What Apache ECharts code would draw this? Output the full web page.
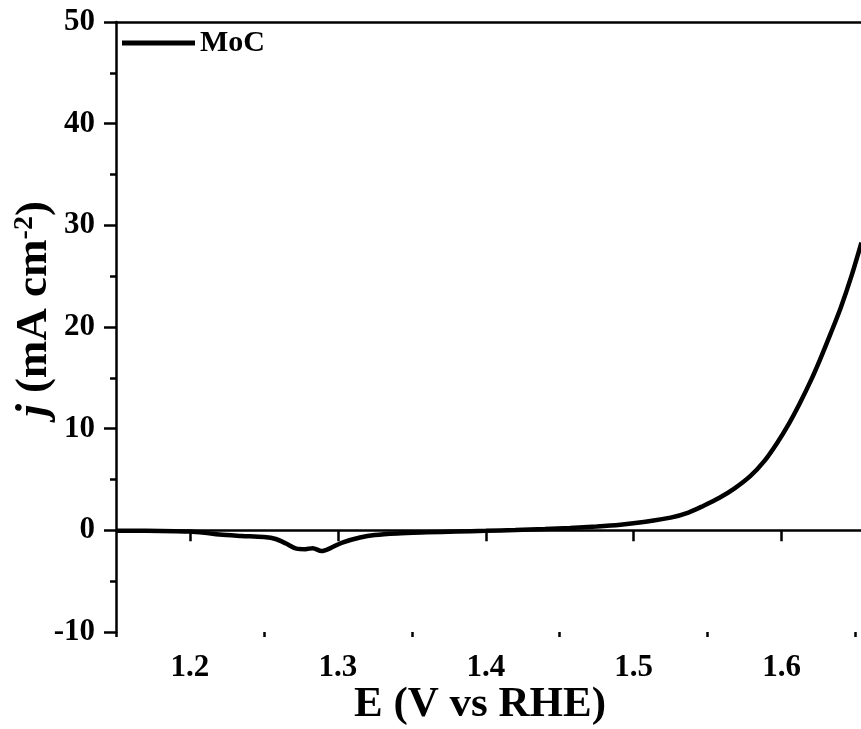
<!DOCTYPE html>
<html>
<head>
<meta charset="utf-8">
<script src="https://cdn.jsdelivr.net/npm/echarts@6/dist/echarts.min.js"></script>
<style>html,body{margin:0;padding:0;background:#fff}#c{width:861px;height:729px}</style>
</head>
<body>
<div id="c"></div>
<script>
const potential = [1.15,1.17,1.19,1.20,1.21,1.22,1.235,1.25,1.258,1.265,1.272,1.278,1.283,1.289,1.295,1.303,1.315,1.325,1.34,1.36,1.38,1.40,1.42,1.44,1.457,1.475,1.491,1.508,1.525,1.537,1.547,1.558,1.568,1.579,1.588,1.597,1.605,1.612,1.62,1.626,1.633,1.640,1.647,1.654];
const currentDensity = [-0.05,-0.05,-0.08,-0.12,-0.25,-0.42,-0.55,-0.66,-0.85,-1.3,-1.8,-1.85,-1.75,-2.04,-1.75,-1.2,-0.7,-0.45,-0.3,-0.2,-0.12,-0.05,0.03,0.12,0.23,0.38,0.56,0.85,1.25,1.75,2.4,3.2,4.1,5.35,6.75,8.6,10.5,12.4,14.8,16.8,19.3,21.9,24.9,28.3];
const xMajorTicks = [1.2,1.3,1.4,1.5,1.6];
const xMinorTicks = [1.15,1.25,1.35,1.45,1.55,1.65];
const seriesName = 'MoC';

const FONT = '"Liberation Serif","Times New Roman",serif';
const xMin = 1.15, xMax = 1.6537;
const chart = echarts.init(document.getElementById('c'));
const data = potential.map((e, i) => [e, currentDensity[i]]);
chart.setOption({
  animation: false,
  backgroundColor: '#fff',
  grid: { left: 116, right: 0, top: 22, bottom: 97, outerBoundsMode: 'none', containLabel: false },
  legend: {
    left: 117, top: 23,
    data: [{ name: seriesName, icon: 'rect' }],
    itemWidth: 73, itemHeight: 5,
    textStyle: { fontFamily: FONT, fontWeight: 'bold', fontSize: 30, color: '#000' }
  },
  xAxis: [
    {
      type: 'value', min: xMin, max: xMax, position: 'bottom',
      name: 'E (V vs RHE)', nameLocation: 'middle', nameGap: 51, nameMoveOverlap: false,
      nameTextStyle: { fontFamily: FONT, fontWeight: 'bold', fontSize: 43, color: '#000', padding: [0, 17, 0, 0] },
      axisLine: { lineStyle: { color: '#000', width: 2.5 } },
      axisTick: { customValues: xMajorTicks, length: 11, lineStyle: { color: '#000', width: 2.5 } },
      axisLabel: { customValues: xMajorTicks, margin: 20, fontFamily: FONT, fontWeight: 'bold', fontSize: 31, color: '#000', formatter: v => v.toFixed(1) },
      splitLine: { show: false }
    },
    {
      type: 'value', min: xMin, max: xMax, position: 'bottom',
      axisLine: { show: false },
      axisTick: { customValues: xMinorTicks, length: 5, lineStyle: { color: '#000', width: 2.5 } },
      axisLabel: { show: false },
      splitLine: { show: false }
    },
    {
      type: 'value', min: xMin, max: xMax, position: 'top',
      axisLine: { lineStyle: { color: '#000', width: 2.5 } },
      axisTick: { show: false }, axisLabel: { show: false }, splitLine: { show: false }
    }
  ],
  yAxis: {
    type: 'value', min: -10, max: 50, interval: 10,
    name: '{i|j}{b| (mA cm}{s|-2}{b|)}',
    nameLocation: 'middle', nameRotate: 90, nameGap: 59, nameMoveOverlap: false,
    nameTextStyle: {
      padding: [0, 0, 0, 36],
      rich: {
        i: { fontFamily: FONT, fontWeight: 'bold', fontStyle: 'italic', fontSize: 45, color: '#000' },
        b: { fontFamily: FONT, fontWeight: 'bold', fontSize: 45, color: '#000' },
        s: { fontFamily: FONT, fontWeight: 'bold', fontSize: 28, color: '#000', verticalAlign: 'top', padding: [0, 0, 18, 0] }
      }
    },
    axisLine: { show: true, lineStyle: { color: '#000', width: 2.5 } },
    axisTick: { show: true, length: 12, lineStyle: { color: '#000', width: 2.5 } },
    minorTick: { show: true, splitNumber: 2, length: 6, lineStyle: { color: '#000', width: 2.5 } },
    axisLabel: { margin: 21, fontFamily: FONT, fontWeight: 'bold', fontSize: 31, color: '#000' },
    splitLine: { show: false }
  },
  series: [{
    name: seriesName, type: 'line', data: data, smooth: 0.3,
    showSymbol: false, symbol: 'none',
    lineStyle: { color: '#000', width: 4.5 },
    itemStyle: { color: '#000' }
  }]
});
</script>
</body>
</html>
